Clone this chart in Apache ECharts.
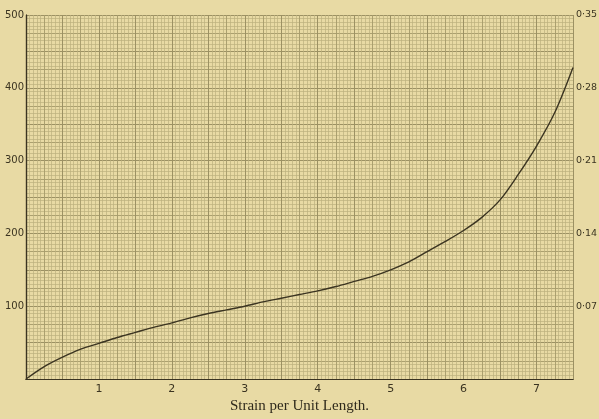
<!DOCTYPE html>
<html><head><meta charset="utf-8">
<script src="https://cdn.jsdelivr.net/npm/echarts@6/dist/echarts.min.js"></script>
<style>html,body{margin:0;padding:0;background:#E8DAA4;}#c{width:599px;height:419px;}</style>
</head><body><div id="c"></div>
<script>
const strain = [0, 0.25, 0.5, 0.75, 1.0, 1.25, 1.5, 1.75, 2.0, 2.25, 2.5, 2.75, 3.0, 3.25, 3.5, 3.75, 4.0, 4.25, 4.5, 4.75, 5.0, 5.25, 5.5, 5.75, 6.0, 6.25, 6.5, 6.75, 7.0, 7.25, 7.5];
const stress = [0, 17, 30, 41, 49, 57, 64, 71, 77, 84, 90, 95, 100, 106, 111, 116, 121, 127, 134, 141, 150, 161, 175, 189, 204, 222, 246, 281, 320, 366, 428];
const xTickLabels = ['1','2','3','4','5','6','7'];
const leftTickLabels = ['100','200','300','400','500'];
const rightTickLabels = ['0·07','0·14','0·21','0·28','0·35'];
const xTitle = 'Strain per Unit Length.';

const ink = '#3b3421';
const heavy = '#7f7550';
const medium = '#a39868';
const light = '#bcb07e';
const grid = {left: 26, right: 26, top: 15, bottom: 40, show: false, outerBoundsMode: 'none', containLabel: false};

const chart = echarts.init(document.getElementById('c'), null, {renderer: 'canvas'});
chart.setOption({
  backgroundColor: '#E8DAA4',
  animation: false,
  grid: grid,
  xAxis: [
    {type: 'value', min: 0, max: 7.5, interval: 0.5,
     axisLine: {show: true, onZero: false, lineStyle: {color: ink, width: 1.2}},
     axisTick: {show: false},
     axisLabel: {color: ink, fontFamily: 'DejaVu Sans', fontSize: 11, margin: 5,
       formatter: v => { const i = Math.round(v); return (Math.abs(v - i) < 1e-6 && i >= 1 && i <= 7) ? xTickLabels[i-1] : ''; }},
     splitLine: {show: true, lineStyle: {color: heavy, width: 1}},
     minorTick: {show: false, splitNumber: 10},
     minorSplitLine: {show: true, lineStyle: {color: light, width: 0.7}}},
    {type: 'value', min: 0, max: 7.5, interval: 0.25, position: 'top',
     axisLine: {show: true, lineStyle: {color: ink, width: 1.2}}, axisTick: {show: false}, axisLabel: {show: false},
     splitLine: {show: true, lineStyle: {color: medium, width: 0.8}}}
  ],
  yAxis: [
    {type: 'value', min: 0, max: 500, interval: 50,
     axisLine: {show: true, onZero: false, lineStyle: {color: ink, width: 1.2}},
     axisTick: {show: false},
     axisLabel: {color: ink, fontFamily: 'DejaVu Sans', fontSize: 10, margin: 2,
       formatter: v => { const i = Math.round(v / 100); return (Math.abs(v - i*100) < 1e-6 && i >= 1) ? leftTickLabels[i-1] : ''; }},
     splitLine: {show: true, lineStyle: {color: heavy, width: 1}},
     minorTick: {show: false, splitNumber: 10},
     minorSplitLine: {show: true, lineStyle: {color: light, width: 0.7}}},
    {type: 'value', min: 0, max: 0.35, interval: 0.07, position: 'right',
     axisLine: {show: true, lineStyle: {color: ink, width: 1.2}},
     axisTick: {show: false},
     axisLabel: {color: ink, fontFamily: 'DejaVu Sans', fontSize: 9.5, margin: 3,
       formatter: v => { const i = Math.round(v / 0.07); return (i >= 1 && i <= 5) ? rightTickLabels[i-1] : ''; }},
     splitLine: {show: false}},
    {type: 'value', min: 0, max: 500, interval: 25, position: 'left', offset: 0,
     axisLine: {show: false}, axisTick: {show: false}, axisLabel: {show: false},
     splitLine: {show: true, lineStyle: {color: medium, width: 0.8}}}
  ],
  series: [{
    type: 'line', xAxisIndex: 0, yAxisIndex: 0,
    data: strain.map((s, i) => [s, stress[i]]),
    smooth: 0.3, symbol: 'none',
    lineStyle: {color: ink, width: 1.4}
  }],
  graphic: [{
    type: 'text', left: 'center', top: 399,
    style: {text: xTitle, fill: '#2f2a1c', font: '15px "Liberation Serif"'}
  }]
});
</script></body></html>
